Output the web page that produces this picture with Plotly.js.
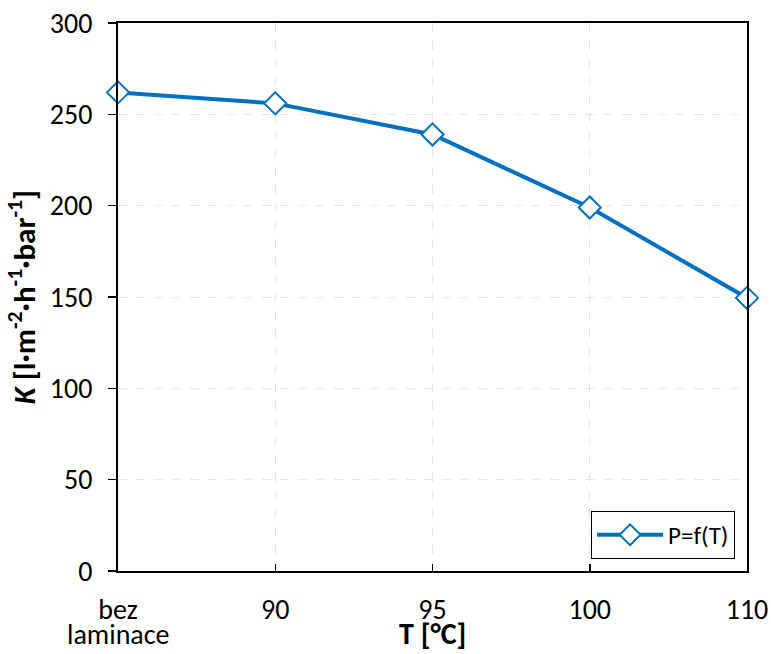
<!DOCTYPE html>
<html><head><meta charset="utf-8">
<script src="https://cdn.plot.ly/plotly-3.0.1.min.js"></script>
<style>body{margin:0;background:#fff}#c{width:771px;height:654px}</style>
</head><body><div id="c"></div>
<script>
const categories = ["bez", "90", "95", "100", "110"];
const firstCategorySecondLine = "laminace";
const kValues = [262, 256, 239, 199, 149.5];
const yTicks = [0, 50, 100, 150, 200, 250, 300];
const seriesName = "P=f(T)";
const xTitle = "<b>T [°C]</b>";
const yTitle = "<b><i>K</i> [l·m<sup>-2</sup>·h<sup>-1</sup>·bar<sup>-1</sup>]</b>";

const font = "Carlito, Calibri, Lato, 'Open Sans', sans-serif";
const blue = "#0070C0";

const trace = {
  x: categories, y: kValues, type: "scatter", mode: "lines+markers",
  name: seriesName, cliponaxis: false,
  line: {color: blue, width: 4},
  marker: {symbol: "diamond", size: 17, color: "#ffffff", line: {color: blue, width: 2}}
};

const layout = {
  width: 771, height: 654,
  margin: {l: 118, r: 24, t: 23, b: 83},
  paper_bgcolor: "#fff", plot_bgcolor: "#fff",
  font: {family: font, size: 28, color: "#000"},
  showlegend: true,
  legend: {x: 0.981, y: 0.022, xanchor: "right", yanchor: "bottom",
    bordercolor: "#000", borderwidth: 1, bgcolor: "#fff",
    tracegroupgap: 0, itemwidth: 66,
    font: {family: font, size: 25, color: "#000"}},
  xaxis: {
    type: "category", range: [0, 4],
    showline: true, linecolor: "#000", linewidth: 2, mirror: true,
    ticks: "inside", ticklen: 7, tickwidth: 1.5, tickcolor: "#000",
    showgrid: true, gridcolor: "#e6e6e6", griddash: "dash", gridwidth: 1,
    tickfont: {family: font, size: 28},
    ticklabelstandoff: 12,
    zeroline: false
  },
  yaxis: {
    range: [0, 300], tickvals: yTicks,
    showline: true, linecolor: "#000", linewidth: 2, mirror: true,
    ticks: "outside", ticklen: 8, tickwidth: 1.5, tickcolor: "#000",
    showgrid: true, gridcolor: "#e6e6e6", griddash: "dash", gridwidth: 1,
    tickfont: {family: font, size: 28},
    ticklabelstandoff: 10,
    title: {text: yTitle, font: {family: font, size: 31}, standoff: 5},
    zeroline: false
  },
  annotations: [{
    x: categories[0], xref: "x", y: 0, yref: "paper",
    text: firstCategorySecondLine, showarrow: false,
    yanchor: "top", xanchor: "center", yshift: -44,
    font: {family: font, size: 28, color: "#000"}
  }, {
    x: 0.5, xref: "paper", y: 0, yref: "paper",
    text: xTitle, showarrow: false,
    yanchor: "bottom", xanchor: "center", yshift: -83,
    font: {family: font, size: 30, color: "#000"}
  }]
};

Plotly.newPlot("c", [trace], layout, {displayModeBar: false, staticPlot: true});
</script></body></html>
